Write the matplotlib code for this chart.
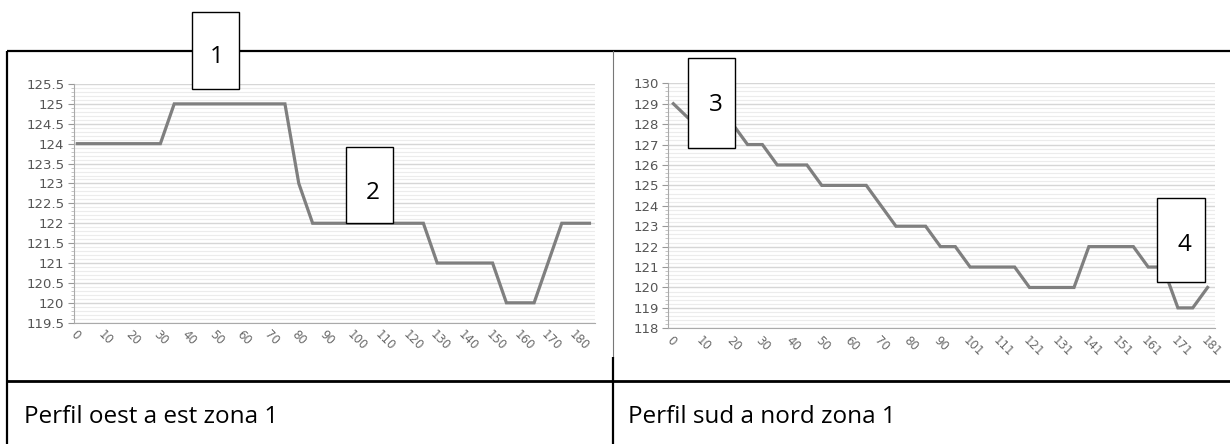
import matplotlib
matplotlib.use("Agg")
import matplotlib.pyplot as plt
from matplotlib.patches import Rectangle
from matplotlib.ticker import MultipleLocator, FuncFormatter

# ---------------- data ----------------
west_east_dist = [0, 5, 10, 15, 20, 25, 30, 35, 40, 45, 50, 55, 60, 65, 70, 75, 80, 85, 90, 95,
                  100, 105, 110, 115, 120, 125, 130, 135, 140, 145, 150, 155, 160, 165, 170, 175,
                  180, 185]
west_east_elev = [124, 124, 124, 124, 124, 124, 124, 125, 125, 125, 125, 125, 125, 125, 125, 125,
                  123, 122, 122, 122, 122, 122, 122, 122, 122, 122, 121, 121, 121, 121, 121,
                  120, 120, 120, 121, 122, 122, 122]

south_north_dist = [0, 5, 10, 15, 20, 25, 30, 35, 40, 45, 50, 55, 60, 65, 70, 75, 80, 85, 90, 96,
                    101, 106, 111, 116, 121, 126, 131, 136, 141, 146, 151, 156, 161, 166, 171,
                    176, 181]
south_north_elev = [129, 128.3, 128, 128, 128, 127, 127, 126, 126, 126, 125, 125, 125, 125, 124,
                    123, 123, 123, 122, 122, 121, 121, 121, 121, 120, 120, 120, 120, 122, 122,
                    122, 122, 121, 121, 119, 119, 120]

captions = ["Perfil oest a est zona 1", "Perfil sud a nord zona 1"]
box_labels = ["1", "2", "3", "4"]

# ---------------- figure ----------------
W, H = 1230, 444
fig = plt.figure(figsize=(W / 100, H / 100), dpi=100)
fig.patch.set_facecolor("white")


def px_axes(x0, x1, ytop, ybot):
    return fig.add_axes([x0 / W, 1 - ybot / H, (x1 - x0) / W, (ybot - ytop) / H])


def style_chart(ax, dist, elev, ymin, ymax, major, minor, xlim):
    n = len(dist)
    idx = list(range(n))
    ax.plot(idx, elev, color="#7f7f7f", lw=2.3, solid_joinstyle="miter", zorder=3)
    ax.set_xlim(*xlim)
    ax.set_ylim(ymin, ymax)
    ax.yaxis.set_major_locator(MultipleLocator(major))
    ax.yaxis.set_minor_locator(MultipleLocator(minor))
    ax.yaxis.set_major_formatter(FuncFormatter(lambda v, p: f"{v:g}"))
    ax.grid(axis="y", which="minor", color="#ececec", lw=0.8, zorder=0)
    ax.grid(axis="y", which="major", color="#d6d6d6", lw=1.0, zorder=1)
    ax.set_axisbelow(True)
    ax.set_xticks(idx[::2])
    ax.set_xticklabels([str(d) for d in dist[::2]], rotation=-45, ha="left", va="top",
                       rotation_mode="anchor", fontsize=8.5, color="#6a6a6a")
    ax.tick_params(axis="x", length=0, pad=4)
    ax.tick_params(axis="y", which="major", length=4, color="#999999", labelsize=9.5,
                   labelcolor="#555555", pad=3)
    ax.tick_params(axis="y", which="minor", length=2, color="#bbbbbb")
    for s in ("top", "right"):
        ax.spines[s].set_visible(False)
    ax.spines["left"].set_color("#aaaaaa")
    ax.spines["bottom"].set_color("#aaaaaa")
    ax.set_facecolor("white")


ax1 = px_axes(74, 595, 84, 322.7)
style_chart(ax1, west_east_dist, west_east_elev, 119.5, 125.5, 0.5, 0.1, (-0.24, 37.4))

ax2 = px_axes(668.3, 1215, 83.3, 328.3)
style_chart(ax2, south_north_dist, south_north_elev, 118, 130, 1, 0.2, (-0.34, 36.5))

# ---------------- overlay: table lines, boxes, captions ----------------
ov = fig.add_axes([0, 0, 1, 1], zorder=10)
ov.set_xlim(0, W)
ov.set_ylim(H, 0)
ov.axis("off")
ov.patch.set_alpha(0)

ov.plot([7, W], [51, 51], color="black", lw=1.6, zorder=1, solid_capstyle="butt")
ov.plot([7.3, 7.3], [51, H], color="black", lw=1.6, zorder=1, solid_capstyle="butt")
ov.plot([612.7, 612.7], [51, 357], color="#777777", lw=0.8, zorder=1)
ov.plot([612.7, 612.7], [357, H], color="black", lw=1.6, zorder=1, solid_capstyle="butt")
ov.plot([7, W], [380.7, 380.7], color="black", lw=2.0, zorder=1, solid_capstyle="butt")

boxes = [(192, 12, 47, 77), (345.7, 147.3, 47, 75.4), (688.3, 58.3, 47, 89.4), (1157.3, 198.3, 47.4, 83.4)]
text_pos = [(217, 57), (372.7, 193.3), (715.7, 105), (1184, 245)]
for (bx, by, bw, bh), (tx, ty), lab in zip(boxes, text_pos, box_labels):
    ov.add_patch(Rectangle((bx, by), bw, bh, facecolor="white", edgecolor="black", lw=1.0, zorder=3))
    ov.text(tx, ty, lab, ha="center", va="center", fontsize=17.5, family="Open Sans",
            color="black", zorder=4)

ov.text(24, 423.3, captions[0], ha="left", va="baseline", fontsize=17.5, family="Open Sans", color="black")
ov.text(628, 423.3, captions[1], ha="left", va="baseline", fontsize=17.5, family="Open Sans", color="black")

fig.savefig("out.png", dpi=100, facecolor="white")
